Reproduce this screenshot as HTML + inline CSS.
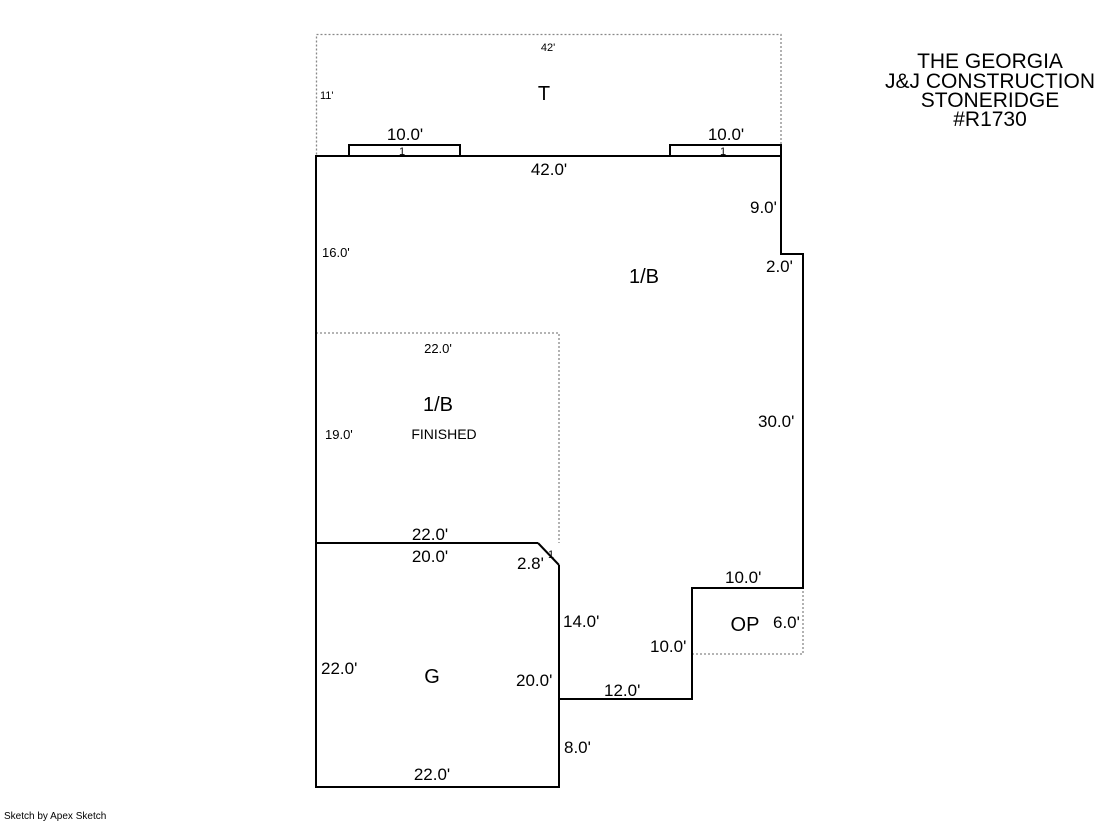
<!DOCTYPE html>
<html><head><style>
body{margin:0;background:#fff;width:1119px;height:821px;overflow:hidden}
svg text{font-family:"Liberation Sans",Arial,sans-serif;fill:#000}
</style></head><body>
<svg width="1119" height="821" xmlns="http://www.w3.org/2000/svg">
<g fill="none" stroke="#888" stroke-width="1.3" stroke-dasharray="2,2">
<rect x="316.5" y="34.5" width="464.5" height="121.5"/>
<polyline points="316,333 559,333 559,543"/>
<polyline points="692,654 803,654 803,588"/>
</g>
<g fill="none" stroke="#000" stroke-width="2">
<polygon points="316,156 781,156 781,254 803,254 803,588 692,588 692,699 559,699 559,787 316,787"/>
<line x1="316" y1="543" x2="538" y2="543"/>
<line x1="538" y1="543" x2="559" y2="565"/>
<line x1="559" y1="565" x2="559" y2="699"/>
<rect x="349" y="145" width="111" height="11"/>
<rect x="670" y="145" width="111" height="11"/>
</g>
<g font-size="17">
<text x="548" y="51" font-size="11" text-anchor="middle">42'</text>
<text x="320" y="99" font-size="11">11'</text>
<text x="544" y="100" font-size="20" text-anchor="middle">T</text>
<text x="405" y="140" text-anchor="middle">10.0'</text>
<text x="726" y="140" text-anchor="middle">10.0'</text>
<text x="402" y="155" font-size="11" text-anchor="middle">1</text>
<text x="723" y="155" font-size="11" text-anchor="middle">1</text>
<text x="549" y="175" text-anchor="middle">42.0'</text>
<text x="750" y="213">9.0'</text>
<text x="766" y="272">2.0'</text>
<text x="322" y="257" font-size="13">16.0'</text>
<text x="644" y="283" font-size="20" text-anchor="middle">1/B</text>
<text x="438" y="353" font-size="13" text-anchor="middle">22.0'</text>
<text x="438" y="411" font-size="20" text-anchor="middle">1/B</text>
<text x="444" y="439" font-size="14" text-anchor="middle">FINISHED</text>
<text x="325" y="439" font-size="13">19.0'</text>
<text x="758" y="427">30.0'</text>
<text x="430" y="540" text-anchor="middle">22.0'</text>
<text x="430" y="562" text-anchor="middle">20.0'</text>
<text x="517" y="569">2.8'</text>
<text x="548" y="558" font-size="11">1</text>
<text x="725" y="583">10.0'</text>
<text x="563" y="627">14.0'</text>
<text x="745" y="631" font-size="20" text-anchor="middle">OP</text>
<text x="773" y="628">6.0'</text>
<text x="650" y="652">10.0'</text>
<text x="321" y="674">22.0'</text>
<text x="432" y="683" font-size="20" text-anchor="middle">G</text>
<text x="516" y="686">20.0'</text>
<text x="604" y="696">12.0'</text>
<text x="564" y="753">8.0'</text>
<text x="432" y="780" text-anchor="middle">22.0'</text>
</g>
<g font-size="21" text-anchor="middle">
<text x="990" y="68">THE GEORGIA</text>
<text x="990" y="88">J&amp;J CONSTRUCTION</text>
<text x="990" y="107">STONERIDGE</text>
<text x="990" y="126">#R1730</text>
</g>
<text x="4" y="819" font-size="10">Sketch by Apex Sketch</text>
</svg>
</body></html>
